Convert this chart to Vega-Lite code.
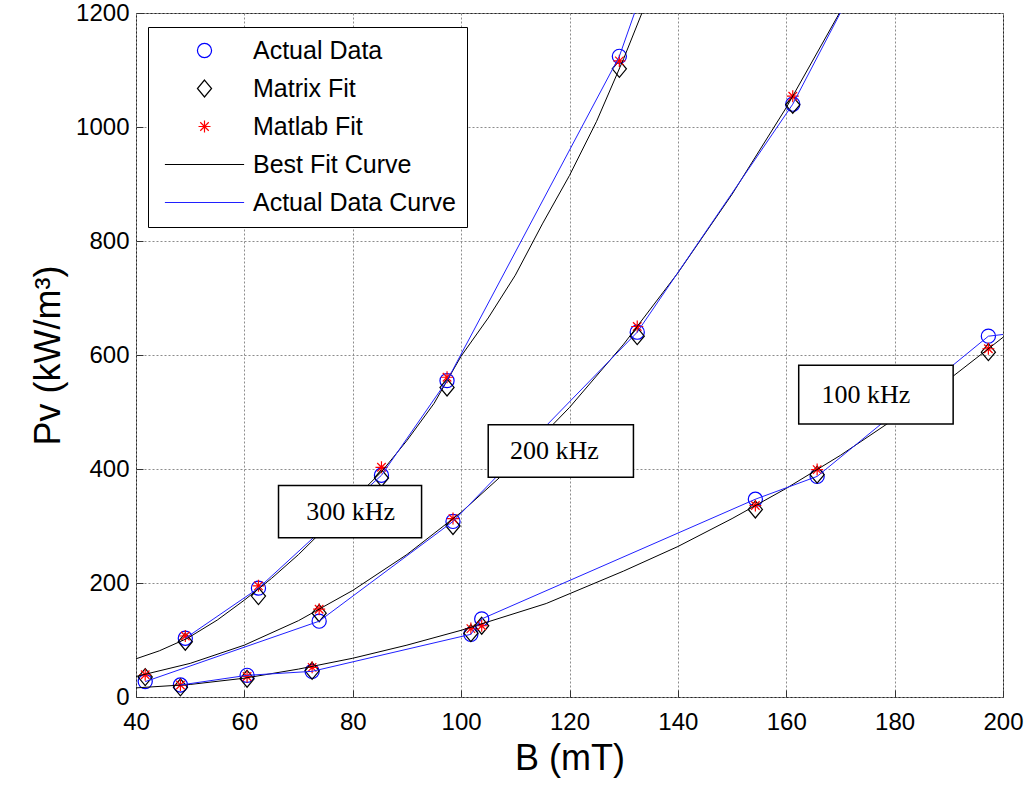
{
  "$schema": "https://vega.github.io/schema/vega-lite/v6.json",
  "width": 867,
  "height": 684,
  "autosize": {"type": "none"},
  "padding": {"left": 136, "top": 13, "right": 26, "bottom": 89},
  "background": "white",
  "config": {
    "view": {"stroke": "#262626", "strokeWidth": 1},
    "font": "Liberation Sans",
    "axis": {
      "labelFont": "Liberation Sans",
      "labelFontSize": 24,
      "labelColor": "black",
      "labelFlush": false,
      "labelOverlap": false,
      "format": "d",
      "titleFont": "Liberation Sans",
      "titleFontSize": 36,
      "titleFontWeight": "normal",
      "titleColor": "black",
      "grid": true,
      "gridColor": "#8c8c8c",
      "gridDash": [2, 2],
      "gridWidth": 1,
      "domain": false,
      "ticks": true,
      "tickSize": -7,
      "tickColor": "#333333"
    }
  },
  "datasets": {
    "pts": [
      {"freq": "300", "series": "Actual Data", "B": 49.1, "P": 103},
      {"freq": "300", "series": "Matrix Fit", "B": 49.1, "P": 97},
      {"freq": "300", "series": "Matlab Fit", "B": 49.1, "P": 107},
      {"freq": "300", "series": "Actual Data", "B": 62.6, "P": 191},
      {"freq": "300", "series": "Matrix Fit", "B": 62.6, "P": 177},
      {"freq": "300", "series": "Matlab Fit", "B": 62.6, "P": 195},
      {"freq": "300", "series": "Actual Data", "B": 85.3, "P": 389},
      {"freq": "300", "series": "Matrix Fit", "B": 85.3, "P": 384},
      {"freq": "300", "series": "Matlab Fit", "B": 85.3, "P": 403},
      {"freq": "300", "series": "Actual Data", "B": 97.4, "P": 555},
      {"freq": "300", "series": "Matrix Fit", "B": 97.4, "P": 543},
      {"freq": "300", "series": "Matlab Fit", "B": 97.4, "P": 561},
      {"freq": "300", "series": "Actual Data", "B": 129.2, "P": 1124},
      {"freq": "300", "series": "Matrix Fit", "B": 129.2, "P": 1102},
      {"freq": "300", "series": "Matlab Fit", "B": 129.2, "P": 1116},
      {"freq": "200", "series": "Actual Data", "B": 41.7, "P": 27},
      {"freq": "200", "series": "Matrix Fit", "B": 41.7, "P": 35},
      {"freq": "200", "series": "Matlab Fit", "B": 41.7, "P": 39},
      {"freq": "200", "series": "Actual Data", "B": 73.8, "P": 133},
      {"freq": "200", "series": "Matrix Fit", "B": 73.8, "P": 147},
      {"freq": "200", "series": "Matlab Fit", "B": 73.8, "P": 154},
      {"freq": "200", "series": "Actual Data", "B": 98.5, "P": 308},
      {"freq": "200", "series": "Matrix Fit", "B": 98.5, "P": 300},
      {"freq": "200", "series": "Matlab Fit", "B": 98.5, "P": 313},
      {"freq": "200", "series": "Actual Data", "B": 132.5, "P": 640},
      {"freq": "200", "series": "Matrix Fit", "B": 132.5, "P": 633},
      {"freq": "200", "series": "Matlab Fit", "B": 132.5, "P": 650},
      {"freq": "200", "series": "Actual Data", "B": 161.2, "P": 1040},
      {"freq": "200", "series": "Matrix Fit", "B": 161.2, "P": 1039},
      {"freq": "200", "series": "Matlab Fit", "B": 161.2, "P": 1054},
      {"freq": "100", "series": "Actual Data", "B": 48.2, "P": 21},
      {"freq": "100", "series": "Matrix Fit", "B": 48.2, "P": 17},
      {"freq": "100", "series": "Matlab Fit", "B": 48.2, "P": 21},
      {"freq": "100", "series": "Actual Data", "B": 60.5, "P": 38},
      {"freq": "100", "series": "Matrix Fit", "B": 60.5, "P": 32},
      {"freq": "100", "series": "Matlab Fit", "B": 60.5, "P": 36},
      {"freq": "100", "series": "Actual Data", "B": 72.5, "P": 45},
      {"freq": "100", "series": "Matrix Fit", "B": 72.5, "P": 46},
      {"freq": "100", "series": "Matlab Fit", "B": 72.5, "P": 52},
      {"freq": "100", "series": "Actual Data", "B": 101.8, "P": 110},
      {"freq": "100", "series": "Matrix Fit", "B": 101.8, "P": 112},
      {"freq": "100", "series": "Matlab Fit", "B": 101.8, "P": 120},
      {"freq": "100", "series": "Actual Data", "B": 103.8, "P": 137},
      {"freq": "100", "series": "Matrix Fit", "B": 103.8, "P": 125},
      {"freq": "100", "series": "Matlab Fit", "B": 103.8, "P": 125},
      {"freq": "100", "series": "Actual Data", "B": 154.3, "P": 347},
      {"freq": "100", "series": "Matrix Fit", "B": 154.3, "P": 329},
      {"freq": "100", "series": "Matlab Fit", "B": 154.3, "P": 336},
      {"freq": "100", "series": "Actual Data", "B": 165.7, "P": 387},
      {"freq": "100", "series": "Matrix Fit", "B": 165.7, "P": 390},
      {"freq": "100", "series": "Matlab Fit", "B": 165.7, "P": 399},
      {"freq": "100", "series": "Actual Data", "B": 197.3, "P": 633},
      {"freq": "100", "series": "Matrix Fit", "B": 197.3, "P": 605},
      {"freq": "100", "series": "Matlab Fit", "B": 197.3, "P": 611}
    ],
    "curves": [
      {"freq": "300", "series": "Best Fit Curve", "B": 40, "P": 67},
      {"freq": "300", "series": "Best Fit Curve", "B": 44.3, "P": 81},
      {"freq": "300", "series": "Best Fit Curve", "B": 49.5, "P": 103},
      {"freq": "300", "series": "Best Fit Curve", "B": 55, "P": 135},
      {"freq": "300", "series": "Best Fit Curve", "B": 60, "P": 170},
      {"freq": "300", "series": "Best Fit Curve", "B": 65, "P": 208},
      {"freq": "300", "series": "Best Fit Curve", "B": 70, "P": 250},
      {"freq": "300", "series": "Best Fit Curve", "B": 75, "P": 297},
      {"freq": "300", "series": "Best Fit Curve", "B": 80, "P": 345},
      {"freq": "300", "series": "Best Fit Curve", "B": 85.3, "P": 395},
      {"freq": "300", "series": "Best Fit Curve", "B": 90, "P": 450},
      {"freq": "300", "series": "Best Fit Curve", "B": 95, "P": 515},
      {"freq": "300", "series": "Best Fit Curve", "B": 100, "P": 598},
      {"freq": "300", "series": "Best Fit Curve", "B": 105, "P": 665},
      {"freq": "300", "series": "Best Fit Curve", "B": 110, "P": 740},
      {"freq": "300", "series": "Best Fit Curve", "B": 115, "P": 830},
      {"freq": "300", "series": "Best Fit Curve", "B": 120, "P": 915},
      {"freq": "300", "series": "Best Fit Curve", "B": 125, "P": 1010},
      {"freq": "300", "series": "Best Fit Curve", "B": 130, "P": 1120},
      {"freq": "300", "series": "Best Fit Curve", "B": 134, "P": 1215},
      {"freq": "200", "series": "Best Fit Curve", "B": 40, "P": 36},
      {"freq": "200", "series": "Best Fit Curve", "B": 50, "P": 59},
      {"freq": "200", "series": "Best Fit Curve", "B": 60, "P": 91},
      {"freq": "200", "series": "Best Fit Curve", "B": 70, "P": 134},
      {"freq": "200", "series": "Best Fit Curve", "B": 80, "P": 187},
      {"freq": "200", "series": "Best Fit Curve", "B": 90, "P": 250},
      {"freq": "200", "series": "Best Fit Curve", "B": 100, "P": 324},
      {"freq": "200", "series": "Best Fit Curve", "B": 110, "P": 410},
      {"freq": "200", "series": "Best Fit Curve", "B": 120, "P": 508},
      {"freq": "200", "series": "Best Fit Curve", "B": 130, "P": 619},
      {"freq": "200", "series": "Best Fit Curve", "B": 140, "P": 744},
      {"freq": "200", "series": "Best Fit Curve", "B": 150, "P": 882},
      {"freq": "200", "series": "Best Fit Curve", "B": 160, "P": 1034},
      {"freq": "200", "series": "Best Fit Curve", "B": 171, "P": 1220},
      {"freq": "100", "series": "Best Fit Curve", "B": 40, "P": 16},
      {"freq": "100", "series": "Best Fit Curve", "B": 50, "P": 22},
      {"freq": "100", "series": "Best Fit Curve", "B": 60, "P": 33},
      {"freq": "100", "series": "Best Fit Curve", "B": 70, "P": 49},
      {"freq": "100", "series": "Best Fit Curve", "B": 80, "P": 68},
      {"freq": "100", "series": "Best Fit Curve", "B": 90, "P": 91},
      {"freq": "100", "series": "Best Fit Curve", "B": 100, "P": 117},
      {"freq": "100", "series": "Best Fit Curve", "B": 115.7, "P": 164},
      {"freq": "100", "series": "Best Fit Curve", "B": 130, "P": 221},
      {"freq": "100", "series": "Best Fit Curve", "B": 140, "P": 264},
      {"freq": "100", "series": "Best Fit Curve", "B": 150, "P": 313},
      {"freq": "100", "series": "Best Fit Curve", "B": 160, "P": 366},
      {"freq": "100", "series": "Best Fit Curve", "B": 170, "P": 424},
      {"freq": "100", "series": "Best Fit Curve", "B": 180, "P": 488},
      {"freq": "100", "series": "Best Fit Curve", "B": 190, "P": 557},
      {"freq": "100", "series": "Best Fit Curve", "B": 200, "P": 631},
      {"freq": "300", "series": "Actual Data Curve", "B": 49.1, "P": 103},
      {"freq": "300", "series": "Actual Data Curve", "B": 62.6, "P": 191},
      {"freq": "300", "series": "Actual Data Curve", "B": 85.3, "P": 389},
      {"freq": "300", "series": "Actual Data Curve", "B": 97.4, "P": 555},
      {"freq": "300", "series": "Actual Data Curve", "B": 129.2, "P": 1124},
      {"freq": "300", "series": "Actual Data Curve", "B": 133, "P": 1227},
      {"freq": "200", "series": "Actual Data Curve", "B": 41.7, "P": 27},
      {"freq": "200", "series": "Actual Data Curve", "B": 73.8, "P": 133},
      {"freq": "200", "series": "Actual Data Curve", "B": 98.5, "P": 308},
      {"freq": "200", "series": "Actual Data Curve", "B": 132.5, "P": 640},
      {"freq": "200", "series": "Actual Data Curve", "B": 161.2, "P": 1040},
      {"freq": "200", "series": "Actual Data Curve", "B": 172, "P": 1237},
      {"freq": "100", "series": "Actual Data Curve", "B": 48.2, "P": 21},
      {"freq": "100", "series": "Actual Data Curve", "B": 60.5, "P": 38},
      {"freq": "100", "series": "Actual Data Curve", "B": 72.5, "P": 45},
      {"freq": "100", "series": "Actual Data Curve", "B": 101.8, "P": 110},
      {"freq": "100", "series": "Actual Data Curve", "B": 103.8, "P": 137},
      {"freq": "100", "series": "Actual Data Curve", "B": 154.3, "P": 347},
      {"freq": "100", "series": "Actual Data Curve", "B": 165.7, "P": 387},
      {"freq": "100", "series": "Actual Data Curve", "B": 197.3, "P": 633},
      {"freq": "100", "series": "Actual Data Curve", "B": 200, "P": 636}
    ],
    "notes": [
      {"label": "300 kHz", "x1": 66.3, "x2": 92.7, "y1": 279.5, "y2": 371, "tx": 79.6, "ty": 324},
      {"label": "200 kHz", "x1": 105.0, "x2": 131.8, "y1": 385.6, "y2": 477.7, "tx": 117.2, "ty": 432},
      {"label": "100 kHz", "x1": 162.3, "x2": 190.8, "y1": 479, "y2": 581.8, "tx": 174.7, "ty": 530}
    ]
  },
  "layer": [
    {
      "data": {"name": "pts"},
      "mark": {"type": "point", "filled": false, "size": 200, "strokeWidth": 1.2, "opacity": 1, "clip": true},
      "encoding": {
        "x": {
          "field": "B", "type": "quantitative",
          "scale": {"domain": [40, 200], "nice": false, "zero": false},
          "axis": {"title": "B (mT)", "values": [40, 60, 80, 100, 120, 140, 160, 180, 200], "labelPadding": 20, "titlePadding": 7}
        },
        "y": {
          "field": "P", "type": "quantitative",
          "scale": {"domain": [0, 1200], "nice": false, "zero": true},
          "axis": {"title": "Pv (kW/m³)", "values": [0, 200, 400, 600, 800, 1000, 1200], "labelPadding": 14, "titlePadding": 8}
        },
        "color": {
          "field": "series", "type": "nominal",
          "scale": {
            "domain": ["Actual Data", "Matrix Fit", "Matlab Fit", "Best Fit Curve", "Actual Data Curve"],
            "range": ["#0000ff", "#000000", "#ff0000", "#000000", "#2020ff"]
          },
          "legend": {
            "title": null, "orient": "none", "legendX": 12, "legendY": 14,
            "fillColor": "white", "strokeColor": "black",
            "padding": 11, "labelFontSize": 25, "labelFont": "Liberation Sans", "labelColor": "black",
            "symbolSize": 200, "symbolStrokeWidth": 1.2, "symbolOffset": 33, "labelOffset": 36,
            "rowPadding": 12, "labelLimit": 400,
            "encode": {"symbols": {"update": {"stroke": {"scale": "color", "field": "value"}}}}
          }
        },
        "shape": {
          "field": "series", "type": "nominal",
          "scale": {
            "domain": ["Actual Data", "Matrix Fit", "Matlab Fit", "Best Fit Curve", "Actual Data Curve"],
            "range": ["circle", "M0,-1.2L1,0L0,1.2L-1,0Z", "M-0.85,0L0.85,0M0,-0.85L0,0.85M-0.6,-0.6L0.6,0.6M-0.6,0.6L0.6,-0.6", "M-5.6,0L5.6,0", "M-5.6,0L5.6,0"]
          },
          "legend": {
            "title": null, "orient": "none", "legendX": 12, "legendY": 14,
            "fillColor": "white", "strokeColor": "black",
            "padding": 11, "labelFontSize": 25, "labelFont": "Liberation Sans", "labelColor": "black",
            "symbolSize": 200, "symbolStrokeWidth": 1.2, "symbolOffset": 33, "labelOffset": 36,
            "rowPadding": 12, "labelLimit": 400,
            "encode": {"symbols": {"update": {"stroke": {"scale": "color", "field": "value"}}}}
          }
        }
      }
    },
    {
      "data": {"name": "curves"},
      "mark": {"type": "line", "strokeWidth": 1, "clip": true},
      "encoding": {
        "x": {"field": "B", "type": "quantitative"},
        "y": {"field": "P", "type": "quantitative"},
        "color": {"field": "series", "type": "nominal"},
        "detail": {"field": "freq", "type": "nominal"},
        "order": {"field": "B", "type": "quantitative"}
      }
    },
    {
      "data": {"name": "notes"},
      "mark": {"type": "rect", "fill": "white", "stroke": "black", "strokeWidth": 1.5},
      "encoding": {
        "x": {"field": "x1", "type": "quantitative"},
        "x2": {"field": "x2"},
        "y": {"field": "y1", "type": "quantitative"},
        "y2": {"field": "y2"}
      }
    },
    {
      "data": {"name": "notes"},
      "mark": {"type": "text", "font": "Liberation Serif", "fontSize": 26, "color": "black", "align": "center", "baseline": "middle"},
      "encoding": {
        "x": {"field": "tx", "type": "quantitative"},
        "y": {"field": "ty", "type": "quantitative"},
        "text": {"field": "label"}
      }
    }
  ]
}
